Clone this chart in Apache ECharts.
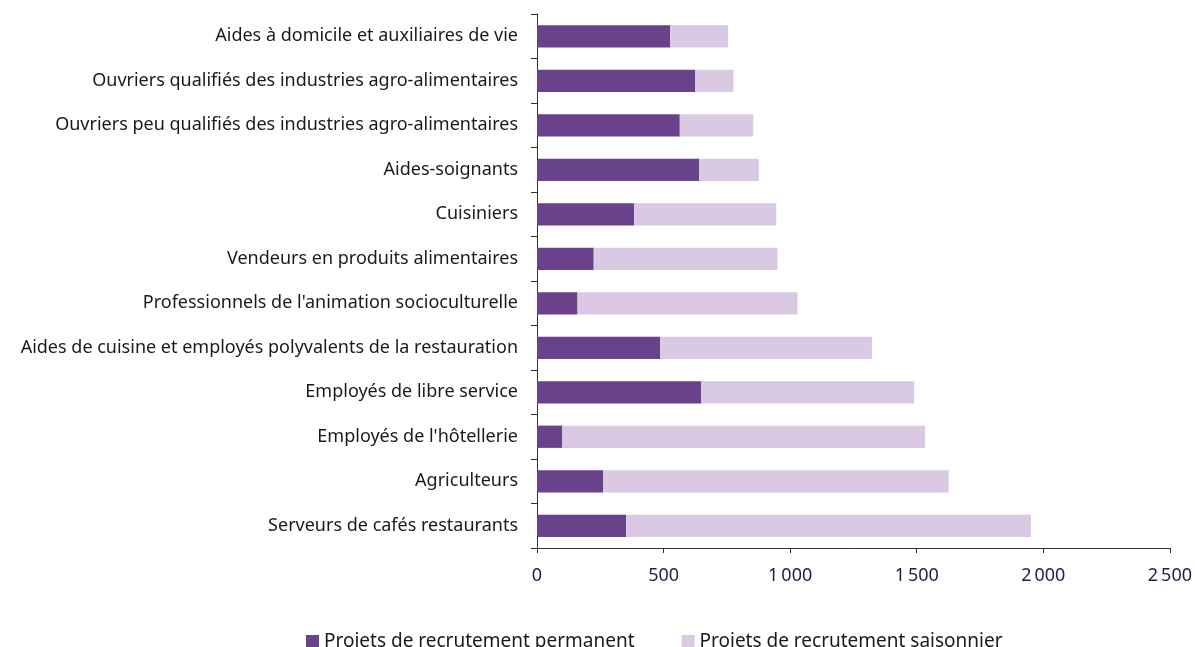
<!DOCTYPE html>
<html>
<head>
<meta charset="utf-8">
<script src="https://cdn.jsdelivr.net/npm/echarts@6/dist/echarts.min.js"></script>
<style>
  html, body { margin: 0; padding: 0; background: #fff; }
  #chart { width: 1195px; height: 647px; }
</style>
</head>
<body>
<div id="chart"></div>
<script>
// métiers, du haut vers le bas
const metiers = [
  'Aides à domicile et auxiliaires de vie',
  'Ouvriers qualifiés des industries agro-alimentaires',
  'Ouvriers peu qualifiés des industries agro-alimentaires',
  'Aides-soignants',
  'Cuisiniers',
  'Vendeurs en produits alimentaires',
  "Professionnels de l'animation socioculturelle",
  'Aides de cuisine et employés polyvalents de la restauration',
  'Employés de libre service',
  "Employés de l'hôtellerie",
  'Agriculteurs',
  'Serveurs de cafés restaurants'
];
const permanent = [526, 625, 564, 641, 384, 224, 160, 486, 649, 100, 262, 352];
const saisonnier = [229, 151, 290, 235, 561, 726, 869, 837, 841, 1433, 1364, 1599];
const xTicks = [0, 500, 1000, 1500, 2000, 2500];

const fontFamily = '"Noto Sans", sans-serif';

const chart = echarts.init(document.getElementById('chart'));

const option = {
  animation: false,
  textStyle: { fontFamily: fontFamily },
  grid: {
    left: 537,
    right: 25,
    top: 14,
    bottom: 99
  },
  legend: {
    bottom: -9,
    left: 301,
    itemWidth: 13,
    itemHeight: 13,
    itemGap: 47,
    icon: 'rect',
    textStyle: { fontSize: 19, color: '#1a1a1a', fontFamily: fontFamily }
  },
  xAxis: {
    type: 'value',
    min: xTicks[0],
    max: xTicks[xTicks.length - 1],
    interval: 500,
    splitLine: { show: false },
    axisLine: { show: true, lineStyle: { color: '#333', width: 1 } },
    axisTick: { show: true, length: 5, lineStyle: { color: '#333' } },
    axisLabel: {
      fontSize: 18,
      color: '#1e1e46',
      margin: 19,
      formatter: v => String(v).replace(/\B(?=(\d{3})+(?!\d))/g, '\u2009')
    }
  },
  yAxis: {
    type: 'category',
    inverse: true,
    data: metiers,
    axisLine: { show: true, lineStyle: { color: '#333', width: 1 } },
    axisTick: { show: true, length: 6, lineStyle: { color: '#333' } },
    axisLabel: { fontSize: 18, color: '#1a1a1a', margin: 19 }
  },
  series: [
    {
      name: 'Projets de recrutement permanent',
      type: 'bar',
      stack: 'total',
      barCategoryGap: '50%',
      itemStyle: { color: '#6a418b' },
      data: permanent
    },
    {
      name: 'Projets de recrutement saisonnier',
      type: 'bar',
      stack: 'total',
      barCategoryGap: '50%',
      itemStyle: { color: '#d9c9e3' },
      data: saisonnier
    }
  ]
};

chart.setOption(option);
</script>
</body>
</html>
